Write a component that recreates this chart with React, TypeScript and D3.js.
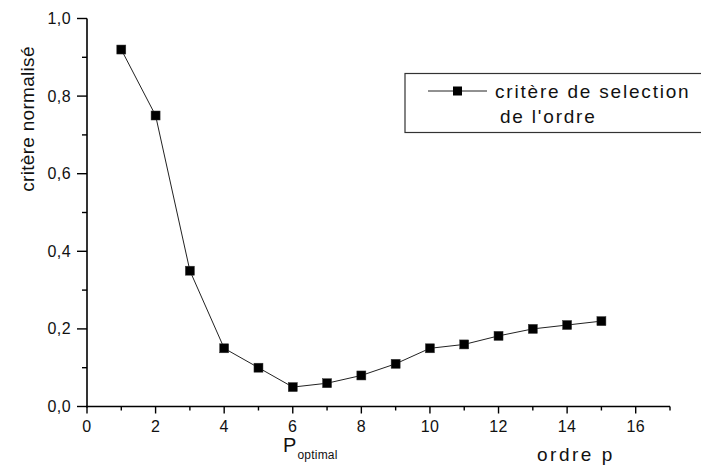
import React from "react";
import * as d3 from "d3";

// Order p and normalised criterion value
const orders = [1, 2, 3, 4, 5, 6, 7, 8, 9, 10, 11, 12, 13, 14, 15];
const criterion = [0.92, 0.75, 0.35, 0.15, 0.1, 0.05, 0.06, 0.08, 0.11, 0.15, 0.16, 0.182, 0.2, 0.21, 0.22];

const xMajorTicks = [0, 2, 4, 6, 8, 10, 12, 14, 16];
const xMinorTicks = [1, 3, 5, 7, 9, 11, 13, 15, 17];
const yMajorTicks = [0, 0.2, 0.4, 0.6, 0.8, 1.0];
const yMinorTicks = [0.1, 0.3, 0.5, 0.7, 0.9];

const W = 701;
const H = 468;
const FONT = "'Liberation Sans', Arial, sans-serif";

export default function App() {
  const x = d3.scaleLinear().domain([0, 17]).range([87, 670]);
  const y = d3.scaleLinear().domain([0, 1]).range([406.5, 18.5]);
  const fmt = (v: number) => v.toFixed(1).replace(".", ",");

  const line = d3
    .line<number>()
    .x((_, i) => x(orders[i]))
    .y((d) => y(d));

  const x0 = x(0);
  const y0 = y(0);

  return (
    <svg
      width={W}
      height={H}
      style={{ position: "absolute", left: 0, top: 0, background: "#fff" }}
      fontFamily={FONT}
    >
      <rect width={W} height={H} fill="#fff" />

      {/* axes */}
      <line x1={x0} x2={x0} y1={y(1)} y2={y0 + 1} stroke="#000" strokeWidth={1.6} />
      <line x1={x0 - 1} x2={x(17)} y1={y0} y2={y0} stroke="#000" strokeWidth={1.6} />

      {/* y ticks */}
      {yMajorTicks.map((t) => (
        <g key={"ym" + t}>
          <line x1={x0 - 10} x2={x0} y1={y(t)} y2={y(t)} stroke="#000" strokeWidth={1.4} />
          <text x={x0 - 16} y={y(t) + 5.5} textAnchor="end" fontSize={16} letterSpacing={0.4} fill="#111">
            {fmt(t)}
          </text>
        </g>
      ))}
      {yMinorTicks.map((t) => (
        <line key={"yn" + t} x1={x0 - 5} x2={x0} y1={y(t)} y2={y(t)} stroke="#000" strokeWidth={1.4} />
      ))}

      {/* x ticks */}
      {xMajorTicks.map((t) => (
        <g key={"xm" + t}>
          <line x1={x(t)} x2={x(t)} y1={y0} y2={y0 + 7} stroke="#000" strokeWidth={1.4} />
          <text x={x(t)} y={432} textAnchor="middle" fontSize={16} letterSpacing={0.4} fill="#111">
            {t}
          </text>
        </g>
      ))}
      {xMinorTicks.map((t) => (
        <line key={"xn" + t} x1={x(t)} x2={x(t)} y1={y0} y2={y0 + 4} stroke="#000" strokeWidth={1.4} />
      ))}

      {/* series */}
      <path d={line(criterion) || ""} fill="none" stroke="#222" strokeWidth={1} />
      {criterion.map((v, i) => (
        <rect
          key={"p" + i}
          x={x(orders[i]) - 4.5}
          y={y(v) - 4.5}
          width={9}
          height={9}
          fill="#000"
          stroke="#333"
          strokeWidth={0.5}
        />
      ))}

      {/* axis titles */}
      <text
        transform={`translate(34,119) rotate(-90)`}
        textAnchor="middle"
        fontSize={19}
        letterSpacing={0.3}
        fill="#111"
      >
        critère normalisé
      </text>
      <text x={283} y={452} fontSize={20} fill="#111">
        P
      </text>
      <text x={297.5} y={459} fontSize={12} letterSpacing={0.2} fill="#111">
        optimal
      </text>
      <text x={537} y={461} fontSize={19} fill="#111" letterSpacing={2.5}>
        ordre  p
      </text>

      {/* legend */}
      <rect x={405} y={73.5} width={310} height={59} fill="#fff" stroke="#333" strokeWidth={1.2} />
      <line x1={428} x2={487} y1={91} y2={91} stroke="#222" strokeWidth={1} />
      <rect x={453} y={86.5} width={9} height={9} fill="#000" />
      <text x={495} y={98} fontSize={19} letterSpacing={1.8} fill="#111">
        critère de selection
      </text>
      <text x={500} y={123} fontSize={19} letterSpacing={1.8} fill="#111">
        de l'ordre
      </text>
    </svg>
  );
}
